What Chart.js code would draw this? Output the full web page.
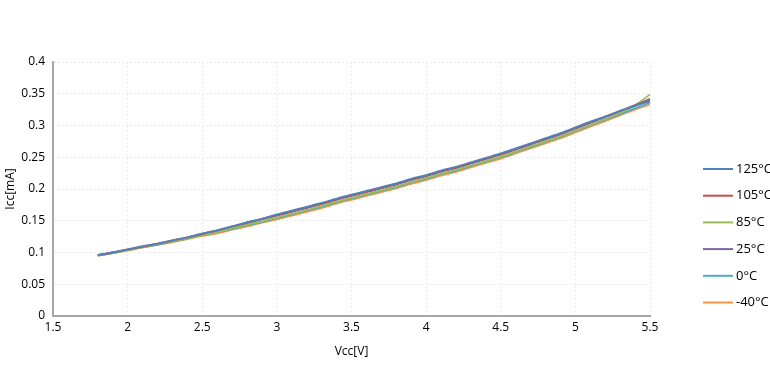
<!DOCTYPE html>
<html>
<head>
<meta charset="utf-8">
<script src="https://cdn.jsdelivr.net/npm/chart.js@4/dist/chart.umd.min.js"></script>
<style>
  html, body { margin: 0; padding: 0; background: #fff; }
  #wrap { width: 770px; height: 376px; }
</style>
</head>
<body>
<div id="wrap"><canvas id="iccChart" width="770" height="376"></canvas></div>
<script>
// ---- data ----
var vcc = [1.8, 1.9, 2.0, 2.1, 2.2, 2.3, 2.4, 2.5, 2.6, 2.7, 2.8, 2.9, 3.0, 3.1, 3.2, 3.3, 3.4, 3.5, 3.6, 3.7,
           3.8, 3.9, 4.0, 4.1, 4.2, 4.3, 4.4, 4.5, 4.6, 4.7, 4.8, 4.9, 5.0, 5.1, 5.2, 5.3, 5.4, 5.5];

var labels = ["125°C", "105°C", "85°C", "25°C", "0°C", "-40°C"];
var colors = ["#4F81BD", "#C0504D", "#9BBB59", "#8064A2", "#4BACC6", "#F79646"];

var icc125 = [.096,.100,.105,.110,.114,.119,.124,.130,.135,.141,.148,.153,.160,.166,.172,.178,.185,.191,.197,.203,
              .209,.216,.222,.229,.235,.242,.249,.256,.264,.272,.280,.288,.297,.306,.314,.323,.331,.340];
var icc105 = [.096,.100,.105,.109,.114,.119,.124,.129,.135,.141,.147,.153,.159,.165,.171,.177,.184,.190,.196,.202,
              .208,.215,.221,.228,.234,.241,.248,.255,.263,.271,.279,.287,.296,.305,.314,.323,.332,.342];
var icc85  = [.095,.099,.104,.108,.113,.117,.122,.127,.132,.138,.144,.149,.155,.161,.167,.173,.180,.186,.192,.198,
              .204,.211,.217,.224,.230,.237,.244,.251,.259,.267,.275,.283,.292,.301,.310,.320,.332,.349];
var icc25  = [.096,.100,.104,.109,.113,.118,.123,.129,.134,.140,.146,.152,.158,.164,.170,.176,.183,.189,.195,.201,
              .207,.214,.220,.227,.233,.240,.247,.254,.262,.270,.278,.286,.295,.304,.313,.322,.331,.338];
var icc0   = [.095,.099,.104,.108,.112,.117,.122,.127,.132,.137,.143,.148,.154,.160,.166,.172,.179,.185,.191,.197,
              .203,.210,.216,.223,.229,.236,.243,.250,.258,.266,.274,.282,.291,.300,.309,.318,.327,.336];
var iccM40 = [.095,.099,.103,.108,.112,.116,.121,.126,.130,.136,.141,.147,.152,.158,.164,.170,.177,.183,.189,.195,
              .201,.208,.214,.221,.227,.234,.241,.248,.256,.264,.272,.280,.289,.298,.307,.316,.325,.333];

var series = [icc125, icc105, icc85, icc25, icc0, iccM40];

// pair x with y for the linear x axis
var datasets = series.map(function(s, i) {
    return {
        label: labels[i],
        data: s.map(function(v, j) { return { x: vcc[j], y: v }; }),
        borderColor: colors[i],
        backgroundColor: colors[i],
        borderWidth: 1.8,
        pointRadius: 0,
        tension: 0.3,
        fill: false
    };
});

// legend drawn at fixed spots on the right, like the original
var sideLegend = {
    id: 'sideLegend',
    afterDraw: function(chart) {
        var ctx = chart.ctx;
        ctx.save();
        ctx.font = '13px "Open Sans"';
        ctx.textBaseline = 'middle';
        chart.data.datasets.forEach(function(ds, i) {
            var y = 169 + i * 26.7;
            ctx.strokeStyle = ds.borderColor;
            ctx.lineWidth = 2;
            ctx.beginPath();
            ctx.moveTo(703, y);
            ctx.lineTo(733, y);
            ctx.stroke();
            ctx.fillStyle = '#000';
            ctx.fillText(ds.label, 736, y);
        });
        ctx.restore();
    }
};

// plain number labels: 0.4 not 0.40, 2 not 2.0
function plainNum(v) { return String(parseFloat(v.toFixed(3))); }

var tickFont = { family: '"Open Sans"', size: 12 };
var titleFont = { family: '"Open Sans"', size: 12 };

var chrt = document.getElementById("iccChart").getContext("2d");
var config = {
    type: 'line',
    data: { datasets: datasets },
    options: {
        responsive: false,
        animation: false,
        layout: { padding: { left: 3, right: 120, top: 62, bottom: 17 } },
        plugins: {
            legend: { display: false },
            tooltip: { enabled: false }
        },
        scales: {
            x: {
                type: 'linear',
                min: 1.5,
                max: 5.5,
                ticks: { stepSize: 0.5, color: '#000', font: tickFont, padding: 4, callback: plainNum },
                grid: { color: '#ebebeb', drawTicks: false },
                border: { color: '#a6a6a6', width: 2, dash: [2, 2] },
                title: { display: true, text: 'Vcc[V]', color: '#000', font: titleFont, padding: 0 },
                afterFit: function(scale) { scale.height = 43; }
            },
            y: {
                min: 0,
                max: 0.4,
                ticks: { stepSize: 0.05, color: '#000', font: tickFont, padding: 8, callback: plainNum },
                grid: { color: '#ebebeb', drawTicks: false },
                border: { color: '#a6a6a6', width: 2, dash: [2, 2] },
                title: { display: true, text: 'Icc[mA]', color: '#000', font: titleFont, padding: 0 },
                afterFit: function(scale) { scale.width = 50; }
            }
        }
    },
    plugins: [sideLegend]
};

var iccChart = new Chart(chrt, config);
</script>
</body>
</html>
